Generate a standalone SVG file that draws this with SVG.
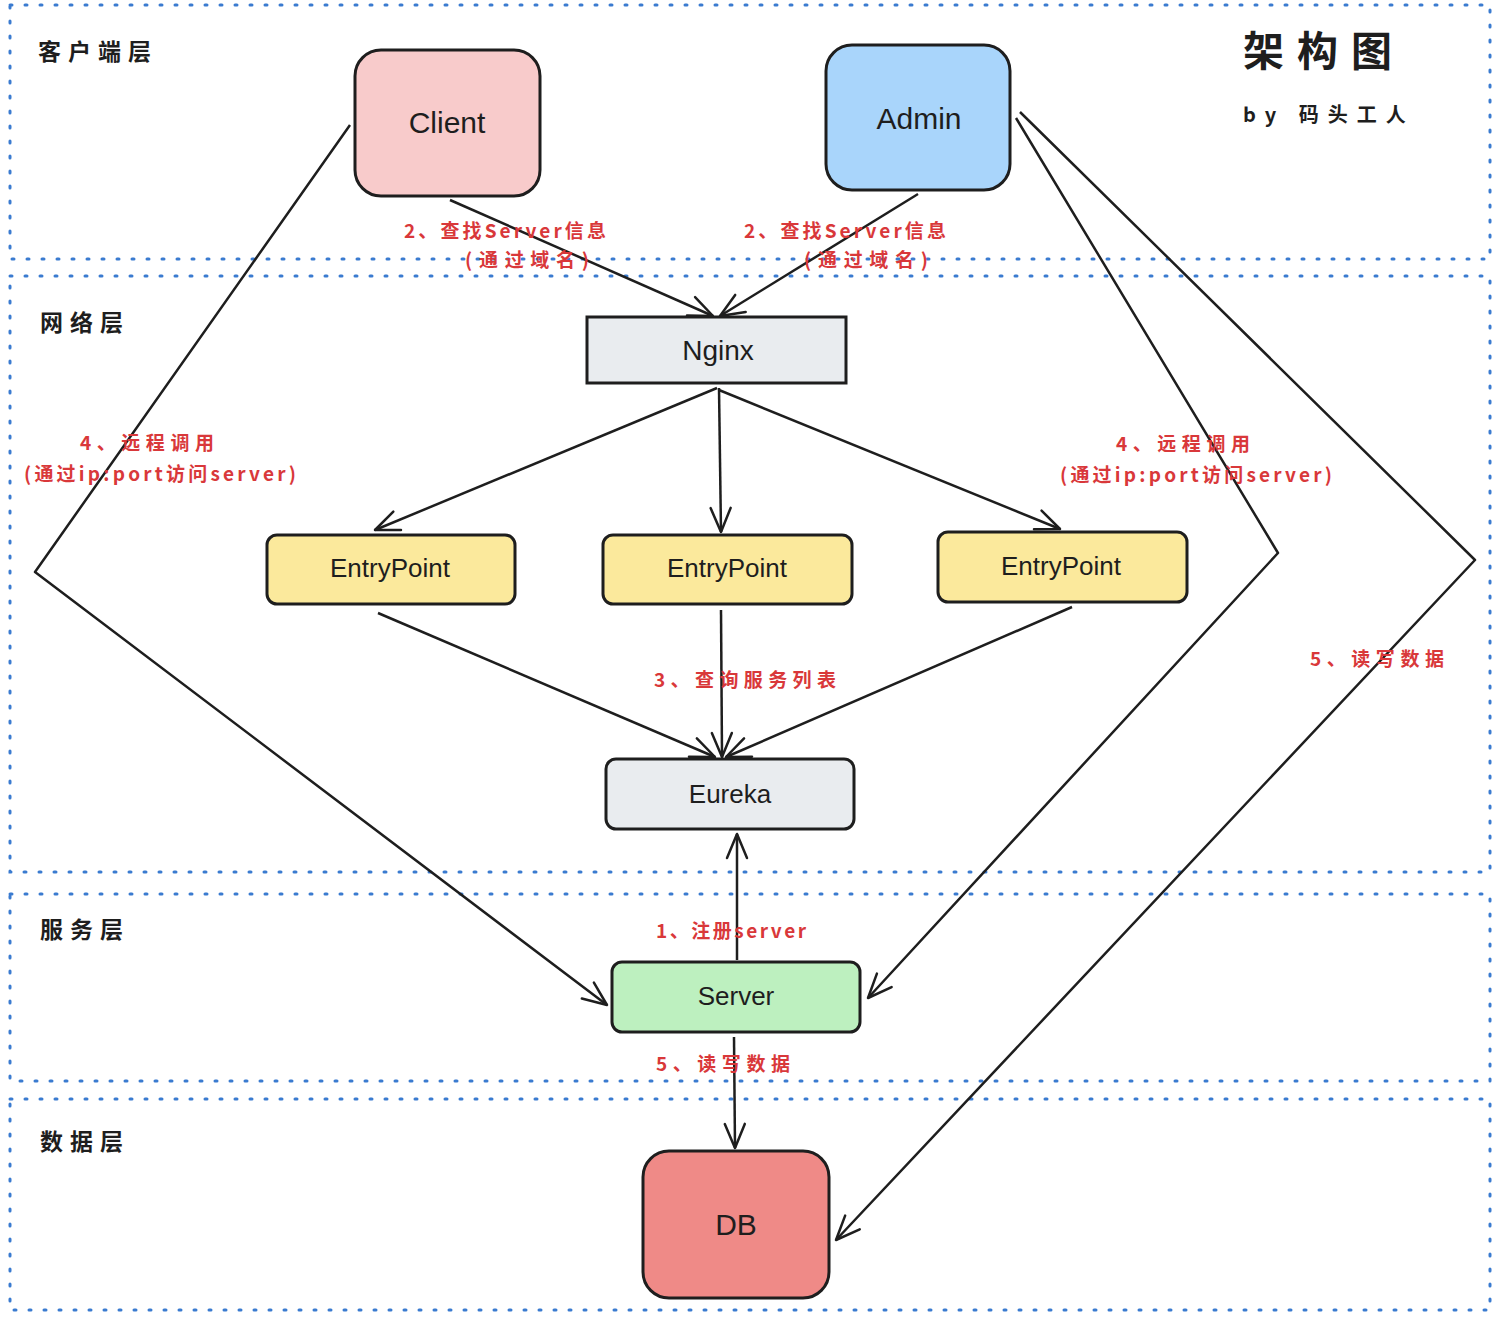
<svg xmlns="http://www.w3.org/2000/svg" width="1500" height="1323" viewBox="0 0 1500 1323">
<defs>
<style>
.layer{fill:none;stroke:#3a7bd0;stroke-width:3;stroke-dasharray:2 13;stroke-linecap:round}
.node{stroke:#1e1e1e;stroke-width:3}
.lbl{font-family:"Liberation Sans","Noto Sans CJK SC",sans-serif;fill:#1e1e1e;text-anchor:middle;dominant-baseline:central}
.ltitle{font-family:"Noto Sans CJK SC",sans-serif;font-weight:bold;fill:#1e1e1e;font-size:23px;letter-spacing:7px}
.elbl{font-family:"Noto Sans CJK SC","Liberation Sans",sans-serif;fill:#d9383a;font-size:19px;font-weight:bold;text-anchor:middle;dominant-baseline:central}
.edge{fill:none;stroke:#1e1e1e;stroke-width:2.5;stroke-linejoin:round;marker-end:url(#arr)}
</style>
<marker id="arr" viewBox="0 0 30 30" refX="27" refY="15" markerWidth="30" markerHeight="30" markerUnits="userSpaceOnUse" orient="auto">
<path d="M3,5 L27,15 L3,25" fill="none" stroke="#1e1e1e" stroke-width="2.5" stroke-linecap="round" stroke-linejoin="round"/>
</marker>
</defs>
<rect width="1500" height="1323" fill="#ffffff"/>

<g id="layers">
<rect class="layer" x="10" y="5" width="1480" height="254"/>
<rect class="layer" x="10" y="276" width="1480" height="596"/>
<rect class="layer" x="10" y="894" width="1480" height="187"/>
<rect class="layer" x="10" y="1099" width="1480" height="211"/>
<text class="ltitle" x="38" y="60">客户端层</text>
<text class="ltitle" x="40" y="331">网络层</text>
<text class="ltitle" x="40" y="938">服务层</text>
<text class="ltitle" x="40" y="1150">数据层</text>
</g>

<g id="title">
<text x="1243" y="66" font-family="Noto Sans CJK SC,sans-serif" font-weight="bold" font-size="41" letter-spacing="13" fill="#1e1e1e">架构图</text>
<text x="1243" y="122" font-family="Noto Sans CJK SC,sans-serif" font-weight="bold" font-size="20" letter-spacing="9" fill="#1e1e1e">by 码头工人</text>
</g>

<g id="connectors">
<path class="edge" d="M450,200 L713,316"/>
<path class="edge" d="M918,194 L720,316"/>
<path class="edge" d="M717,388 L375,530"/>
<path class="edge" d="M719,388 L721,532"/>
<path class="edge" d="M719,390 L1060,529"/>
<path class="edge" d="M378,613 L715,757"/>
<path class="edge" d="M721,610 L722,757"/>
<path class="edge" d="M1072,607 L726,757"/>
<path class="edge" d="M737,960 L737,834"/>
<path class="edge" d="M734,1037 L735,1148"/>
<path class="edge" d="M350,125 L35,572 L607,1005"/>
<path class="edge" d="M1016,118 L1278,553 L868,998"/>
<path class="edge" d="M1020,112 L1475,560 L836,1240"/>
</g>

<g id="edge-labels">
<text class="elbl" x="505" y="229" textLength="202" lengthAdjust="spacing">2、查找Server信息</text>
<text class="elbl" x="527" y="258" textLength="124" lengthAdjust="spacing">(通过域名)</text>
<text class="elbl" x="845" y="229" textLength="202" lengthAdjust="spacing">2、查找Server信息</text>
<text class="elbl" x="866" y="258" textLength="124" lengthAdjust="spacing">(通过域名)</text>
<text class="elbl" x="147" y="441" textLength="134" lengthAdjust="spacing">4、远程调用</text>
<text class="elbl" x="160" y="472" textLength="272" lengthAdjust="spacing">(通过ip:port访问server)</text>
<text class="elbl" x="1183" y="442" textLength="134" lengthAdjust="spacing">4、远程调用</text>
<text class="elbl" x="1196" y="473" textLength="272" lengthAdjust="spacing">(通过ip:port访问server)</text>
<text class="elbl" x="745" y="678" textLength="182" lengthAdjust="spacing">3、查询服务列表</text>
<text class="elbl" x="731" y="929" textLength="150" lengthAdjust="spacing">1、注册server</text>
<text class="elbl" x="723" y="1062" textLength="134" lengthAdjust="spacing">5、读写数据</text>
<text class="elbl" x="1377" y="657" textLength="134" lengthAdjust="spacing">5、读写数据</text>
</g>

<g id="client">
<rect class="node" x="355" y="50" width="185" height="146" rx="26" fill="#f8cbcb"/>
<text class="lbl" x="447" y="122" font-size="30">Client</text>
</g>
<g id="admin">
<rect class="node" x="826" y="45" width="184" height="145" rx="26" fill="#a9d5fb"/>
<text class="lbl" x="919" y="118" font-size="30">Admin</text>
</g>
<g id="nginx">
<rect class="node" x="587" y="317" width="259" height="66" fill="#e9ecef"/>
<text class="lbl" x="718" y="350" font-size="28">Nginx</text>
</g>
<g id="entrypoint1">
<rect class="node" x="267" y="535" width="248" height="69" rx="10" fill="#fbe99c"/>
<text class="lbl" x="390" y="568" font-size="26">EntryPoint</text>
</g>
<g id="entrypoint2">
<rect class="node" x="603" y="535" width="249" height="69" rx="10" fill="#fbe99c"/>
<text class="lbl" x="727" y="568" font-size="26">EntryPoint</text>
</g>
<g id="entrypoint3">
<rect class="node" x="938" y="532" width="249" height="70" rx="10" fill="#fbe99c"/>
<text class="lbl" x="1061" y="566" font-size="26">EntryPoint</text>
</g>
<g id="eureka">
<rect class="node" x="606" y="759" width="248" height="70" rx="10" fill="#e9ecef"/>
<text class="lbl" x="730" y="794" font-size="26">Eureka</text>
</g>
<g id="server">
<rect class="node" x="612" y="962" width="248" height="70" rx="10" fill="#bdf0bf"/>
<text class="lbl" x="736" y="996" font-size="26">Server</text>
</g>
<g id="db">
<rect class="node" x="643" y="1151" width="186" height="147" rx="26" fill="#ef8a87"/>
<text class="lbl" x="736" y="1224" font-size="30">DB</text>
</g>
</svg>
